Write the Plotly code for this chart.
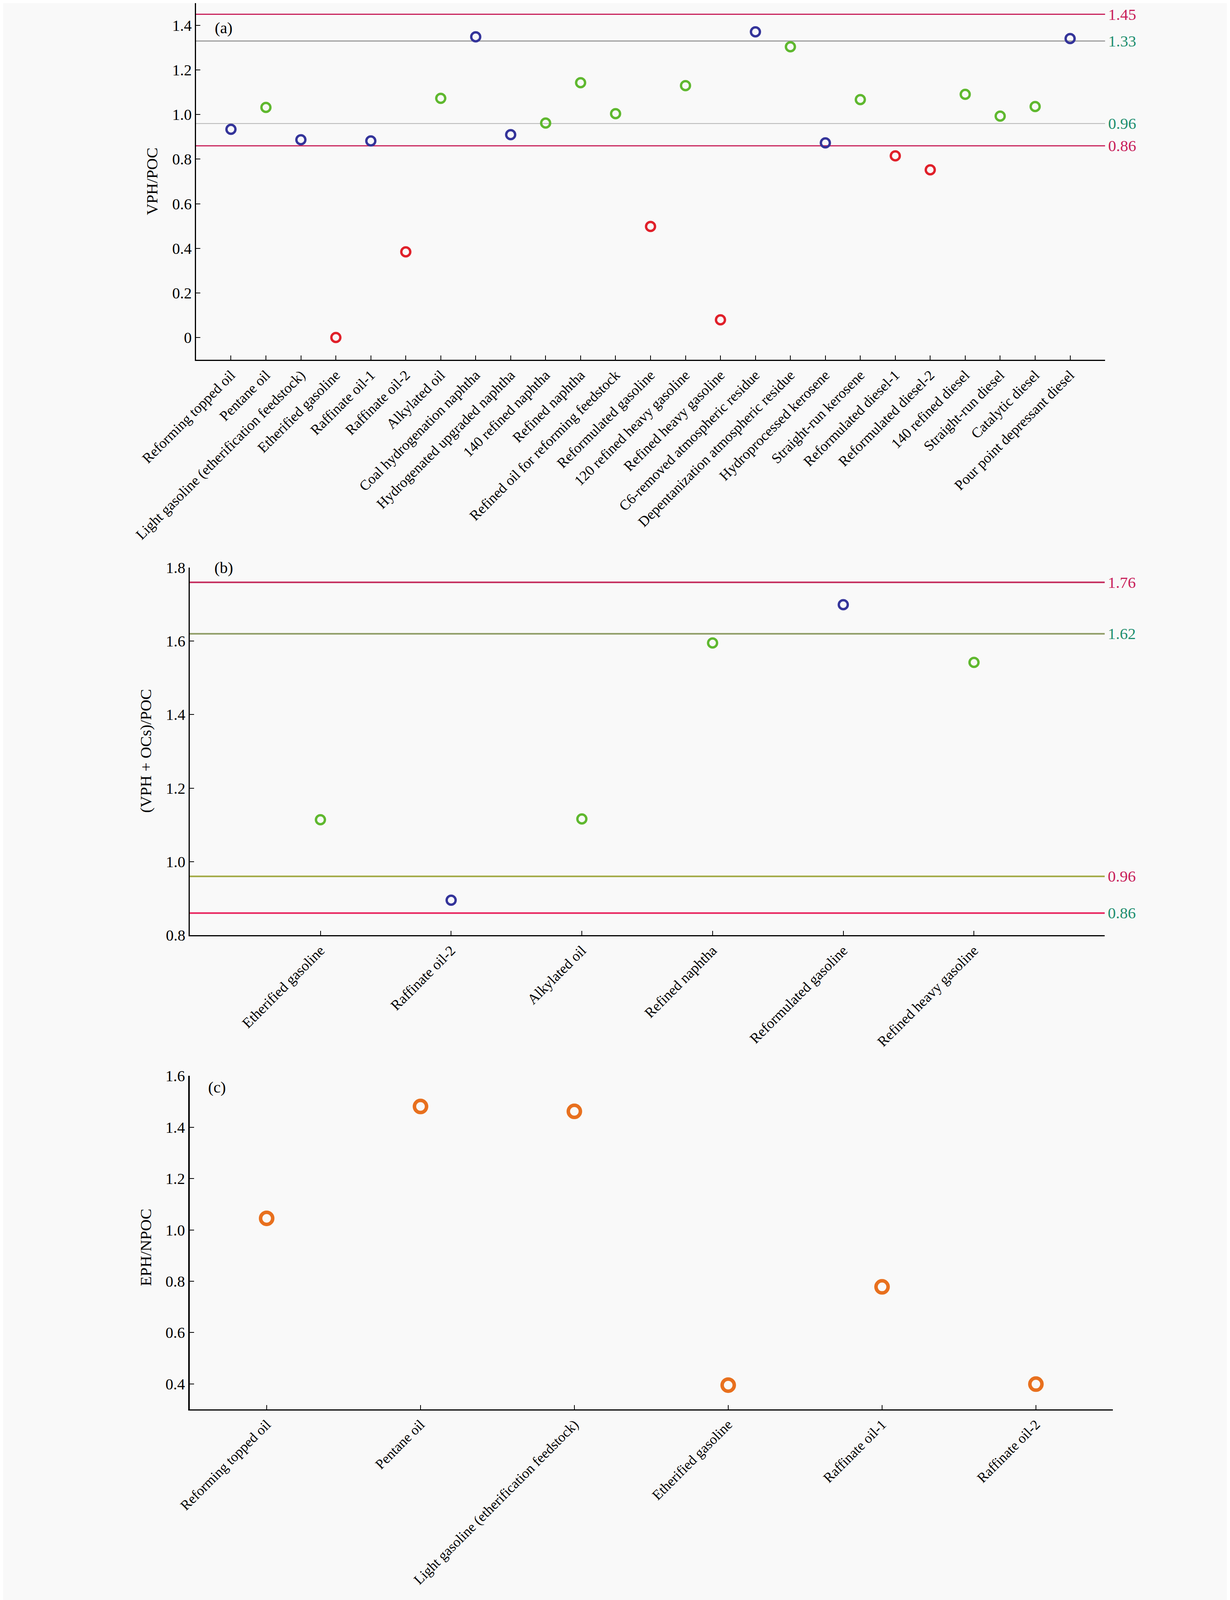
import plotly.graph_objects as go

# (a) VPH/POC
cats_a = [
    "Reforming topped oil", "Pentane oil", "Light gasoline (etherification feedstock)",
    "Etherified gasoline", "Raffinate oil-1", "Raffinate oil-2", "Alkylated oil",
    "Coal hydrogenation naphtha", "Hydrogenated upgraded naphtha", "140 refined naphtha",
    "Refined naphtha", "Refined oil for reforming feedstock", "Reformulated gasoline",
    "120 refined heavy gasoline", "Refined heavy gasoline", "C6-removed atmospheric residue",
    "Depentanization atmospheric residue", "Hydroprocessed kerosene", "Straight-run kerosene",
    "Reformulated diesel-1", "Reformulated diesel-2", "140 refined diesel",
    "Straight-run diesel", "Catalytic diesel", "Pour point depressant diesel",
]
vals_a = [0.934, 1.032, 0.887, 0.0, 0.882, 0.384, 1.073, 1.349, 0.910, 0.962,
          1.143, 1.004, 0.498, 1.130, 0.079, 1.371, 1.304, 0.873, 1.067, 0.815,
          0.752, 1.091, 0.993, 1.036, 1.341]
grp_a = ["b", "g", "b", "r", "b", "r", "g", "b", "b", "g", "g", "g", "r",
         "g", "r", "b", "g", "b", "g", "r", "r", "g", "g", "g", "b"]
refs_a = [1.45, 1.33, 0.96, 0.86]

# (b) (VPH + OCs)/POC
cats_b = ["Etherified gasoline", "Raffinate oil-2", "Alkylated oil",
          "Refined naphtha", "Reformulated gasoline", "Refined heavy gasoline"]
vals_b = [1.114, 0.895, 1.116, 1.595, 1.699, 1.542]
grp_b = ["g", "b", "g", "g", "b", "g"]
refs_b = [1.76, 1.62, 0.96, 0.86]

# (c) EPH/NPOC
cats_c = ["Reforming topped oil", "Pentane oil", "Light gasoline (etherification feedstock)",
          "Etherified gasoline", "Raffinate oil-1", "Raffinate oil-2"]
vals_c = [1.045, 1.481, 1.462, 0.395, 0.778, 0.399]

COL = {"b": "#34349a", "g": "#5fb82f", "r": "#e0202a"}
CRIMSON = "#c8205a"
TEAL = "#1f8f6f"
FONT = "Liberation Serif"
BG = "#f9f9f9"

# the browser viewport stops at 4096 px, so the figure is fitted into that height
W, H = 3150, 4096
FS_TICK = 40
FS_CAT = 37
FS_TXT = 41

fig = go.Figure()

fig.add_trace(go.Scatter(
    x=list(range(len(cats_a))), y=vals_a, mode="markers",
    marker=dict(symbol="circle-open", size=23, color=[COL[g] for g in grp_a],
                line=dict(width=6)),
    xaxis="x", yaxis="y", showlegend=False))
fig.add_trace(go.Scatter(
    x=list(range(len(cats_b))), y=vals_b, mode="markers",
    marker=dict(symbol="circle-open", size=23, color=[COL[g] for g in grp_b],
                line=dict(width=6)),
    xaxis="x2", yaxis="y2", showlegend=False))
fig.add_trace(go.Scatter(
    x=list(range(len(cats_c))), y=vals_c, mode="markers",
    marker=dict(symbol="circle-open", size=31, color="#e8701e",
                line=dict(width=9)),
    xaxis="x3", yaxis="y3", showlegend=False))

# reference lines + right-hand labels
line_a = [(CRIMSON, 3), ("#9c9c9c", 3), ("#b4b4b4", 2), (CRIMSON, 3)]
lab_a = [CRIMSON, TEAL, TEAL, CRIMSON]
line_b = [("#c42a5c", 4), ("#8c9a62", 4), ("#a0a840", 4), ("#e81e5a", 4)]
lab_b = [CRIMSON, TEAL, CRIMSON, TEAL]

for suffix, refs, lines, labs in [("", refs_a, line_a, lab_a), ("2", refs_b, line_b, lab_b)]:
    for v, (lc, lw), tc in zip(refs, lines, labs):
        fig.add_shape(type="line", xref=f"x{suffix} domain", yref=f"y{suffix}",
                      x0=0, x1=1, y0=v, y1=v, line=dict(color=lc, width=lw), layer="below")
        fig.add_annotation(xref=f"x{suffix} domain", yref=f"y{suffix}", x=1, y=v,
                           text=f"{v:.2f}", showarrow=False, xanchor="left", yanchor="middle",
                           xshift=6, font=dict(family=FONT, size=FS_TXT, color=tc))

axis_common = dict(showline=True, linecolor="black", linewidth=3, ticks="inside",
                   ticklen=11, tickwidth=2, tickcolor="black", showgrid=False,
                   zeroline=False, automargin=False,
                   tickfont=dict(family=FONT, size=FS_TICK, color="black"))
xcat = dict(axis_common, tickangle=-45, tickfont=dict(family=FONT, size=FS_CAT, color="black"))

ya_vals = [0, 0.2, 0.4, 0.6, 0.8, 1.0, 1.2, 1.4]
ya_text = ["0", "0.2", "0.4", "0.6", "0.8", "1.0", "1.2", "1.4"]

fig.update_layout(
    width=W, height=H,
    margin=dict(l=0, r=0, t=0, b=0),
    paper_bgcolor=BG, plot_bgcolor=BG,
    font=dict(family=FONT, color="black"),
    xaxis=dict(xcat, domain=[0.1568, 0.8959], range=[-1, 25], anchor="y",
               tickvals=list(range(len(cats_a) + 1)), ticktext=cats_a + [""]),
    yaxis=dict(axis_common, domain=[0.7771, 1.0], range=[-0.1, 1.5], anchor="x",
               tickvals=ya_vals, ticktext=ya_text),
    xaxis2=dict(xcat, domain=[0.1517, 0.8956], range=[-1, 6], anchor="y2",
                tickvals=list(range(len(cats_b) + 1)), ticktext=cats_b + [""]),
    yaxis2=dict(axis_common, domain=[0.4175, 0.6472], range=[0.8, 1.8], anchor="x2",
                dtick=0.2, tickformat=".1f"),
    xaxis3=dict(xcat, domain=[0.1517, 0.9022], range=[-0.5, 5.5], anchor="y3",
                tickvals=list(range(len(cats_c))), ticktext=cats_c,
                tickfont=dict(family=FONT, size=36, color="black")),
    yaxis3=dict(axis_common, linewidth=4, domain=[0.121, 0.3295], range=[0.3, 1.6],
                anchor="x3", tick0=0.4, dtick=0.2, tickformat=".1f"),
)

# panel letters
for ax, txt, x, y in [("", "(a)", 0.02, 0.931), ("2", "(b)", 0.026, 1.0), ("3", "(c)", 0.019, 0.966)]:
    fig.add_annotation(xref=f"x{ax} domain", yref=f"y{ax} domain", x=x, y=y, text=txt,
                       showarrow=False, xanchor="left", yanchor="middle",
                       font=dict(family=FONT, size=FS_TXT, color="black"))

# y-axis titles
for txt, x, y in [("VPH/POC", 0.121, 0.8885), ("(VPH + OCs)/POC", 0.116, 0.5326),
                  ("EPH/NPOC", 0.116, 0.2224)]:
    fig.add_annotation(xref="paper", yref="paper", x=x, y=y, text=txt, textangle=-90,
                       showarrow=False, xanchor="center", yanchor="middle",
                       font=dict(family=FONT, size=FS_TXT, color="black"))

fig.write_html("out.html")
